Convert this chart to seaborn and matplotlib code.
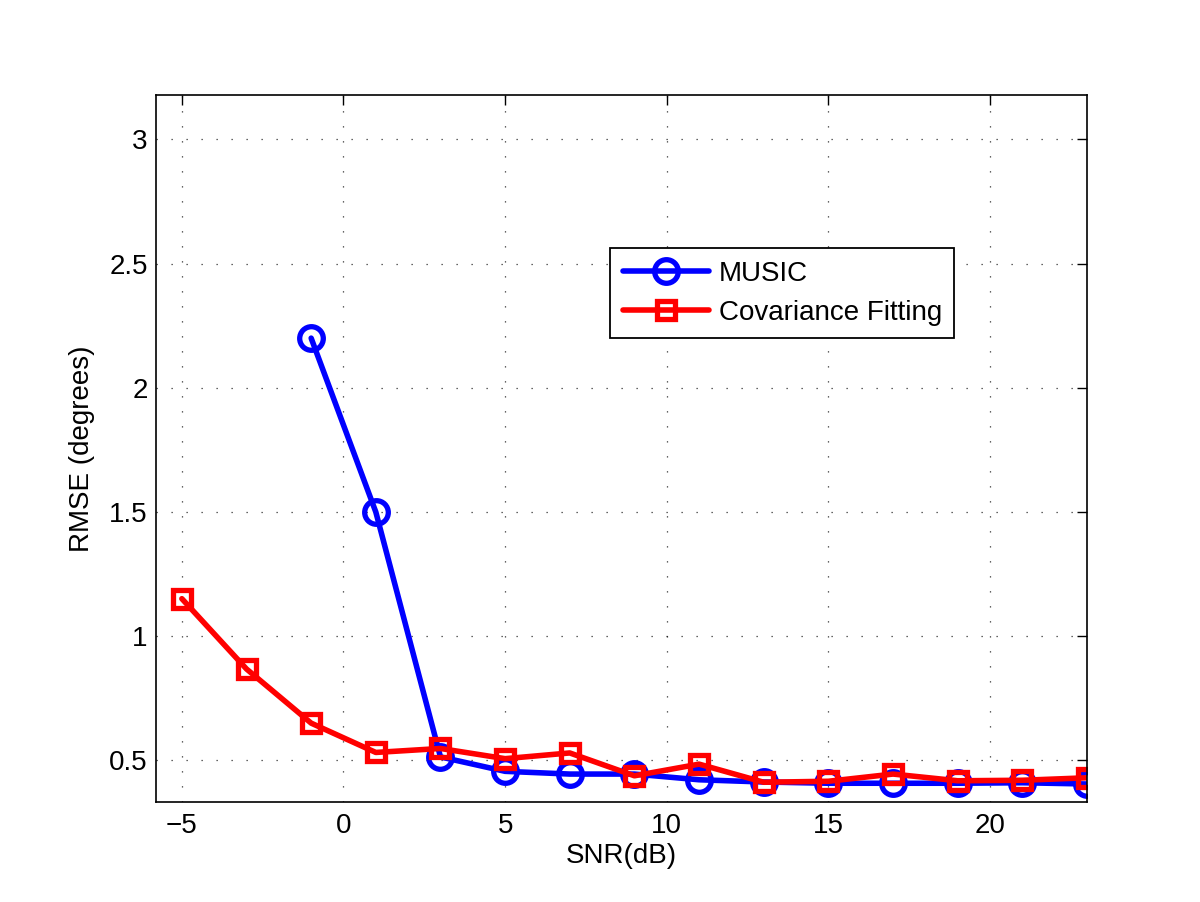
import matplotlib
matplotlib.use("Agg")
import matplotlib.pyplot as plt
import seaborn as sns
import pandas as pd

snr_music = [-1, 1, 3, 5, 7, 9, 11, 13, 15, 17, 19, 21, 23]
rmse_music = [2.20, 1.50, 0.514, 0.456, 0.445, 0.445, 0.422, 0.413, 0.408, 0.408, 0.408, 0.410, 0.405]

snr_cov = [-5, -3, -1, 1, 3, 5, 7, 9, 11, 13, 15, 17, 19, 21, 23]
rmse_cov = [1.151, 0.868, 0.650, 0.532, 0.548, 0.507, 0.530, 0.438, 0.485, 0.412,
            0.416, 0.445, 0.418, 0.420, 0.430]

df_music = pd.DataFrame({"SNR": snr_music, "RMSE": rmse_music})
df_cov = pd.DataFrame({"SNR": snr_cov, "RMSE": rmse_cov})

sns.set_style("white")
plt.rcParams['font.family'] = ['Liberation Sans', 'DejaVu Sans']
plt.rcParams['text.color'] = 'black'
plt.rcParams['axes.labelcolor'] = 'black'

fig = plt.figure(figsize=(12, 9.02), dpi=100)
ax = fig.add_axes([0.13, 0.111, 0.7758, 0.784])

sns.lineplot(data=df_music, x="SNR", y="RMSE", ax=ax, color="blue", linewidth=4,
             marker="o", markersize=17, markerfacecolor="none", markeredgecolor="blue",
             markeredgewidth=3.8, label="MUSIC")
sns.lineplot(data=df_cov, x="SNR", y="RMSE", ax=ax, color="red", linewidth=4,
             marker="s", markersize=13, markerfacecolor="none", markeredgecolor="red",
             markeredgewidth=3.8, label="Covariance Fitting")

ax.set_xlim(-5.8, 23)
ax.set_ylim(0.333, 3.18)
ax.set_xticks([-5, 0, 5, 10, 15, 20])
ax.set_xticklabels(["\u22125", "0", "5", "10", "15", "20"])
ax.set_yticks([0.5, 1, 1.5, 2, 2.5, 3])
ax.set_yticklabels(["0.5", "1", "1.5", "2", "2.5", "3"])
ax.grid(True, color="black", linestyle=(0, (1, 11)), linewidth=0.9, alpha=0.8)
ax.tick_params(direction="in", length=7, width=1, labelsize=20, top=True, right=True,
               color="black", labelcolor="black")
ax.tick_params(axis="x", pad=8)
ax.tick_params(axis="y", pad=6)
for s in ax.spines.values():
    s.set_color("black")
    s.set_linewidth(1.2)
ax.set_xlabel("SNR(dB)", fontsize=20, labelpad=3)
ax.set_ylabel("RMSE (degrees)", fontsize=20, labelpad=10)

leg = ax.legend(loc="upper left", bbox_to_anchor=(0.488, 0.783), fontsize=20, fancybox=False,
                framealpha=1, edgecolor="black", handlelength=3.1, borderpad=0.45,
                labelspacing=0.47, handletextpad=0.35, borderaxespad=0)
leg.get_frame().set_linewidth(1.3)

fig.savefig("out.png", dpi=100, facecolor="white")
